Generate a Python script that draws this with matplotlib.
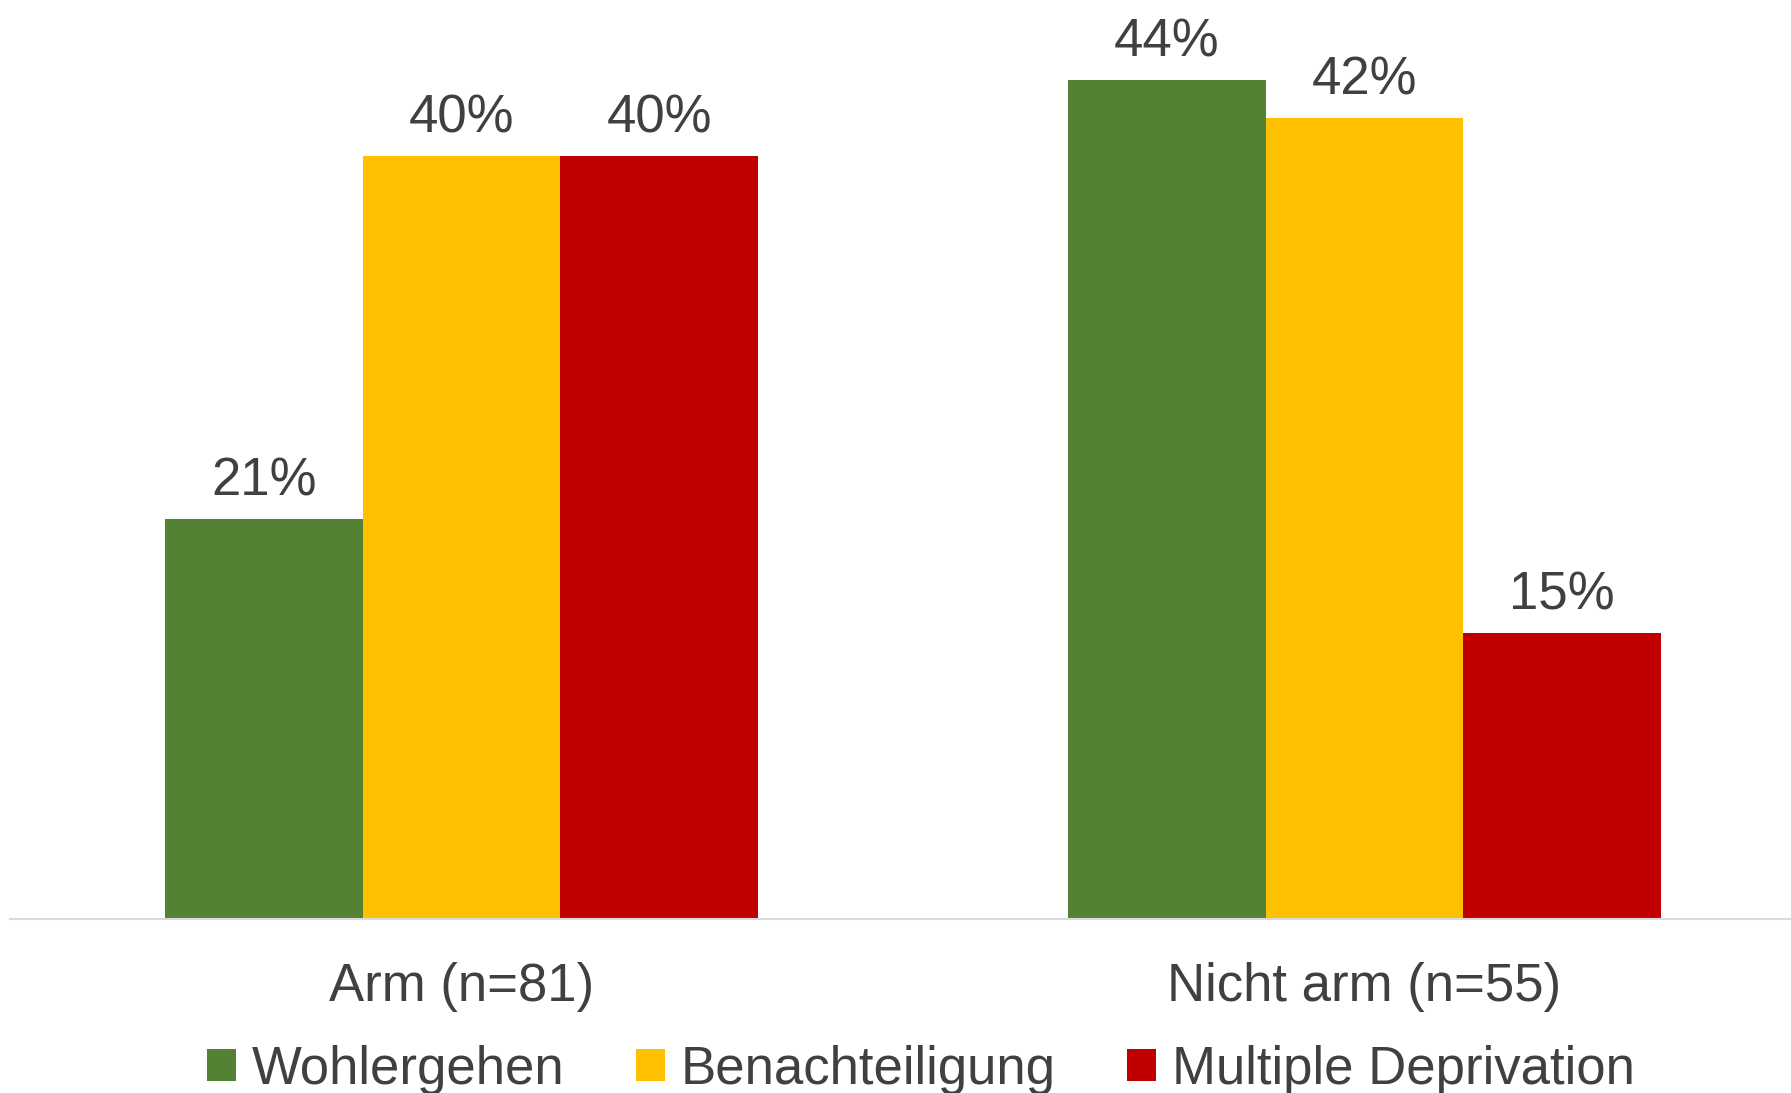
import numpy as np
import matplotlib.pyplot as plt

# Data
groups = ['Arm (n=81)', 'Nicht arm (n=55)']
series = ['Wohlergehen', 'Benachteiligung', 'Multiple Deprivation']
wohlergehen = [21, 44]
benachteiligung = [40, 42]
deprivation = [40, 15]
colors = ['#548235', '#FFC000', '#C00000']

plt.rcParams['font.family'] = ['Liberation Sans', 'DejaVu Sans']
txt = '#404040'

fig = plt.figure(figsize=(17.91, 10.93), dpi=100)
ax = fig.add_axes([10 / 1791, 174 / 1093, 1806 / 1791, 919 / 1093])

x = np.arange(len(groups))
w = 0.219
for i, (vals, name) in enumerate(zip([wohlergehen, benachteiligung, deprivation], series)):
    bars = ax.bar(x + (i - 1) * w, vals, w, color=colors[i], label=name)
    ax.bar_label(bars, labels=[f'{v}%' for v in vals], padding=9,
                 fontsize=38, color=txt)

ax.set_xlim(-0.5, 1.5)
ax.set_ylim(0, 48.2)
ax.set_xticks(x)
ax.set_xticklabels(groups, fontsize=38, color=txt)
ax.tick_params(axis='x', length=0, pad=31)
ax.set_yticks([])
for s in ['top', 'right', 'left']:
    ax.spines[s].set_visible(False)
ax.spines['bottom'].set_color('#d9d9d9')
ax.spines['bottom'].set_linewidth(1.5)

leg = fig.legend(loc='center', bbox_to_anchor=(921 / 1791, 0.021), ncol=3,
                 frameon=False, fontsize=38, handlelength=0.55, handleheight=0.55,
                 handletextpad=0.3, columnspacing=1.35, borderpad=0, borderaxespad=0)
for t in leg.get_texts():
    t.set_color(txt)

fig.savefig('out.png', dpi=100)
